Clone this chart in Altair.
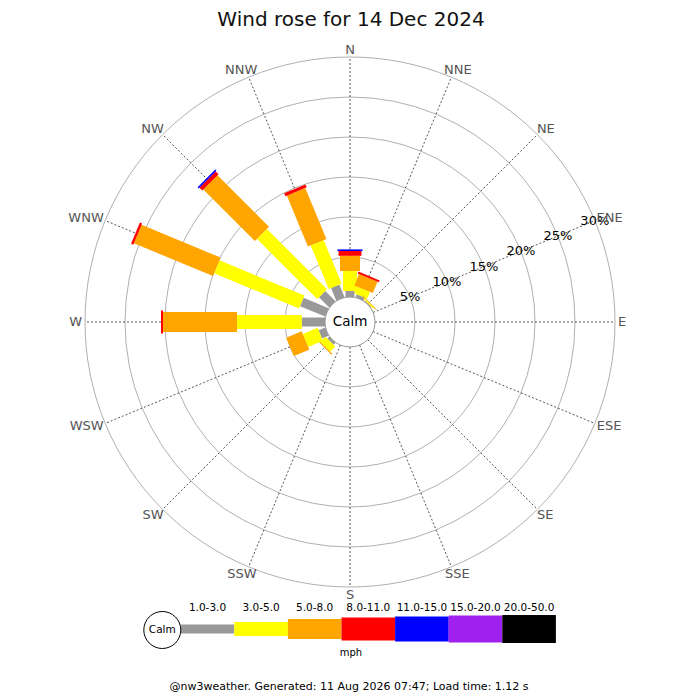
import math
import altair as alt
import pandas as pd

# ---------------- data ----------------
directions = ["N", "NNE", "NE", "ENE", "E", "ESE", "SE", "SSE",
              "S", "SSW", "SW", "WSW", "W", "WNW", "NW", "NNW"]
speed_classes = ["1.0-3.0", "3.0-5.0", "5.0-8.0", "8.0-11.0",
                 "11.0-15.0", "15.0-20.0", "20.0-50.0"]

# percentage of the day per direction (N..NNW) for each speed class (mph)
pct_1_3   = [0.75, 0.40, 0.10, 0, 0, 0, 0, 0, 0, 0, 0.35, 0.90, 2.90, 3.40, 1.80, 1.70]
pct_3_5   = [2.50, 0.90, 0.15, 0, 0, 0, 0, 0, 0, 0, 0.90, 2.00, 8.10, 11.50, 10.65, 5.90]
pct_5_8   = [1.90, 1.55, 0.10, 0, 0, 0, 0, 0, 0, 0, 0.15, 2.10, 9.25, 10.70, 9.10, 6.90]
pct_8_11  = [0.60, 0.25, 0, 0, 0, 0, 0, 0, 0, 0, 0, 0, 0.25, 0.30, 0.50, 0.40]
pct_11_15 = [0.20, 0, 0, 0, 0, 0, 0, 0, 0, 0, 0, 0, 0, 0, 0.20, 0]
pct_15_20 = [0, 0, 0, 0, 0, 0, 0, 0, 0, 0, 0, 0, 0, 0, 0, 0]
pct_20_50 = [0, 0, 0, 0, 0, 0, 0, 0, 0, 0, 0, 0, 0, 0, 0, 0]

ring_pcts = [5, 10, 15, 20, 25, 30]
ring_labels = ["5%", "10%", "15%", "20%", "25%", "30%"]

title_text = "Wind rose for 14 Dec 2024"
calm_text = "Calm"
unit_text = "mph"
footer_text = "@nw3weather. Generated: 11 Aug 2026 07:47; Load time: 1.12 s"

# ---------------- style ----------------
colors = ["#999999", "#ffff00", "#ffa500", "#ff0000", "#0000ff", "#a020f0", "#000000"]
widths = [9, 14, 20, 23, 25, 27, 28]
FONT = "DejaVu Sans"
LETTER_W = {"N": 9.72, "E": 8.22, "S": 8.26, "W": 12.86}   # 13px DejaVu Sans glyph widths
W = H = 684
CALM = 3.125          # calm-circle radius, in % units
OUTER = CALM + 30     # outer ring
PX = 8.0              # px per % unit
xs = alt.Scale(domain=[-42.75, 42.75], nice=False, zero=False)
ys = alt.Scale(domain=[-46.25, 39.25], nice=False, zero=False)
rs = alt.Scale(type="linear", domain=[0, 42.75], range=[0, 342], zero=True, nice=False)
cs = alt.Scale(domain=speed_classes, range=colors)
TWO_PI = 2 * math.pi


def X(f):
    return alt.X(f, type="quantitative", scale=xs, axis=None)


def Y(f):
    return alt.Y(f, type="quantitative", scale=ys, axis=None)


# ---------------- tables ----------------
series = [pct_1_3, pct_3_5, pct_5_8, pct_8_11, pct_11_15, pct_15_20, pct_20_50]
rows = []
for d_i, d in enumerate(directions):
    cum = 0.0
    for c_i, cls in enumerate(speed_classes):
        v = series[c_i][d_i]
        if v > 0:
            rows.append(dict(direction=d, angle=d_i * 22.5, cls=cls,
                             start=cum, end=cum + v, w=widths[c_i]))
        cum += v
bars_df = pd.DataFrame(rows)

dirs_df = pd.DataFrame({"label": directions,
                        "angle": [i * 22.5 for i in range(len(directions))],
                        "hw": [sum(LETTER_W[c] for c in d) / 2 for d in directions]})
rings_df = pd.DataFrame({"pct": ring_pcts, "label": ring_labels})
legend_df = pd.DataFrame({"cls": speed_classes, "idx": list(range(len(speed_classes))),
                          "w": widths})

rad = "datum.angle*PI/180"

# ---------------- layers ----------------
rings = alt.Chart(rings_df).transform_calculate(
    r=f"datum.pct + {CALM}"
).mark_arc(theta=0, theta2=TWO_PI, filled=False, stroke="#b0b0b0", strokeWidth=1).encode(
    x=alt.X(datum=0, scale=xs, axis=None),
    y=alt.Y(datum=0, scale=ys, axis=None),
    radius=alt.Radius("r:Q", scale=rs, stack=False),
)

spokes = alt.Chart(dirs_df).transform_calculate(
    x0=f"{CALM}*sin({rad})", y0=f"{CALM}*cos({rad})",
    x1=f"{OUTER}*sin({rad})", y1=f"{OUTER}*cos({rad})",
).mark_rule(color="#444444", strokeWidth=0.9, strokeDash=[2, 2]).encode(
    x=X("x0"), y=Y("y0"), x2="x1:Q", y2="y1:Q"
)

calm_circle = alt.Chart(pd.DataFrame({"r": [CALM]})).mark_arc(
    theta=0, theta2=TWO_PI, fill="white", stroke="#999999", strokeWidth=1
).encode(
    x=alt.X(datum=0, scale=xs, axis=None),
    y=alt.Y(datum=0, scale=ys, axis=None),
    radius=alt.Radius("r:Q", scale=rs, stack=False),
)

bars = alt.Chart(bars_df).transform_calculate(
    x0=f"({CALM}+datum.start)*sin({rad})", y0=f"({CALM}+datum.start)*cos({rad})",
    x1=f"({CALM}+datum.end)*sin({rad})", y1=f"({CALM}+datum.end)*cos({rad})",
).mark_rule(strokeCap="butt").encode(
    x=X("x0"), y=Y("y0"), x2="x1:Q", y2="y1:Q",
    color=alt.Color("cls:N", scale=cs, legend=None),
    strokeWidth=alt.StrokeWidth("w:Q", scale=None, legend=None),
)

ring_text = alt.Chart(rings_df).transform_calculate(
    x=f"(datum.pct+{CALM})*sin(67.5*PI/180)", y=f"(datum.pct+{CALM})*cos(67.5*PI/180)"
).mark_text(font=FONT, fontSize=13, color="black", align="center", baseline="middle").encode(
    x=X("x"), y=Y("y"), text="label:N"
)

# compass labels: pushed out past the outer ring by half their width / height
compass = alt.Chart(dirs_df).transform_calculate(
    x=f"({OUTER} + (3 + datum.hw)/{PX})*sin({rad})",
    y=f"({OUTER} + (3 + 4.5)/{PX})*cos({rad})",
).mark_text(font=FONT, fontSize=13, color="#555555", align="center", baseline="middle").encode(
    x=X("x"), y=Y("y"), text="label:N"
)

calm_label = alt.Chart(pd.DataFrame({"t": [calm_text]})).mark_text(
    font=FONT, fontSize=13.5, color="black", align="center", baseline="middle"
).encode(x=alt.X(datum=0, scale=xs, axis=None), y=alt.Y(datum=0, scale=ys, axis=None), text="t:N")

title = alt.Chart(pd.DataFrame({"t": [title_text]})).mark_text(
    font=FONT, fontSize=20, color="#111111", align="center", baseline="alphabetic"
).encode(x=alt.value(343), y=alt.value(17.5), text="t:N")

# legend (positions in chart pixels converted to the same % units)
LX0, LSTEP, LY = 172.7, 53.6, 621.0
leg_bars = alt.Chart(legend_df).transform_calculate(
    x0=f"({LX0} + datum.idx*{LSTEP} - {W/2})/{PX}",
    x1=f"({LX0} + (datum.idx+1)*{LSTEP} - {W/2})/{PX}",
    y0=f"39.25 - {LY}/{PX}",
).mark_rule(strokeCap="butt").encode(
    x=X("x0"), x2="x1:Q", y=Y("y0"),
    color=alt.Color("cls:N", scale=cs, legend=None),
    strokeWidth=alt.StrokeWidth("w:Q", scale=None, legend=None),
)
leg_text = alt.Chart(legend_df).transform_calculate(
    x0=f"({LX0} + (datum.idx+0.5)*{LSTEP} - {W/2})/{PX}",
    y0=f"39.25 - 603/{PX}",
).mark_text(font=FONT, fontSize=10.5, color="black", align="center", baseline="alphabetic").encode(
    x=X("x0"), y=Y("y0"), text="cls:N"
)
leg_circle = alt.Chart(pd.DataFrame({"t": [calm_text]})).mark_arc(
    theta=0, theta2=TWO_PI, radius=18.5, fill="white", stroke="black", strokeWidth=1
).encode(x=alt.value(154.3), y=alt.value(622))
leg_calm = alt.Chart(pd.DataFrame({"t": [calm_text]})).mark_text(
    font=FONT, fontSize=10.5, color="black", align="center", baseline="middle"
).encode(x=alt.value(154.3), y=alt.value(622), text="t:N")
unit = alt.Chart(pd.DataFrame({"t": [unit_text]})).mark_text(
    font=FONT, fontSize=10, color="black", align="center", baseline="alphabetic"
).encode(x=alt.value(343), y=alt.value(648), text="t:N")
footer = alt.Chart(pd.DataFrame({"t": [footer_text]})).mark_text(
    font=FONT, fontSize=11, color="black", align="center", baseline="alphabetic"
).encode(x=alt.value(341), y=alt.value(682), text="t:N")

chart = alt.layer(
    rings, spokes, calm_circle, bars, ring_text, compass, calm_label, title,
    leg_bars, leg_text, leg_circle, leg_calm, unit, footer
).properties(
    width=W, height=H, padding=0,
    autosize=alt.AutoSizeParams(type="none"),
    background="white",
).configure_view(strokeWidth=0)

chart.save("out.html", embed_options={"renderer": "svg", "actions": False})
